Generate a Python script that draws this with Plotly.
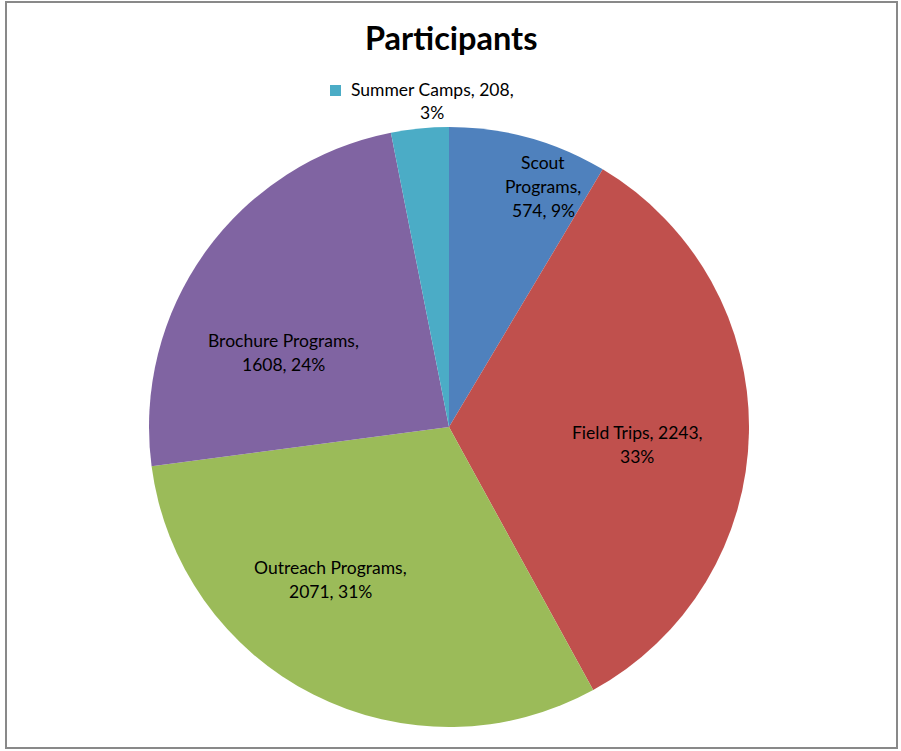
import plotly.graph_objects as go

categories = ["Scout Programs", "Field Trips", "Outreach Programs", "Brochure Programs", "Summer Camps"]
values = [574, 2243, 2071, 1608, 208]
colors = ["#4F81BD", "#C0504D", "#9BBB59", "#8064A2", "#4BACC6"]

W, H = 901, 751
total = sum(values)
pcts = [round(v / total * 100) for v in values]

# label line layouts (pixel centres) for each slice
label_lines = {
    "Scout Programs": (["Scout", "Programs,", "{v}, {p}%"], 543, 163),
    "Field Trips": (["{n}, {v},", "{p}%"], 637, 432),
    "Outreach Programs": (["{n},", "{v}, {p}%"], 330, 567),
    "Brochure Programs": (["{n},", "{v}, {p}%"], 283, 341),
    "Summer Camps": (["{n}, {v},", "{p}%"], 432, 89),
}
LINE_H = 24
FONT = "Lato, Carlito, 'Open Sans', sans-serif"

cx, cy, r = 449, 427, 300

fig = go.Figure(go.Pie(
    labels=categories,
    values=values,
    sort=False,
    direction="clockwise",
    rotation=0,
    marker=dict(colors=colors, line=dict(width=0)),
    textinfo="none",
    hoverinfo="label+value+percent",
    showlegend=False,
    domain=dict(x=[(cx - r) / W, (cx + r) / W], y=[1 - (cy + r) / H, 1 - (cy - r) / H]),
))

annotations = []
for n, v, p in zip(categories, values, pcts):
    lines, x0, y0 = label_lines[n]
    for i, ln in enumerate(lines):
        annotations.append(dict(
            text=ln.format(n=n, v=v, p=p),
            x=x0 / W, y=1 - (y0 + i * LINE_H) / H,
            xref="paper", yref="paper", showarrow=False,
            xanchor="center", yanchor="middle",
            font=dict(family=FONT, size=17.5, color="#000000"),
        ))

annotations.append(dict(
    text="<b>Participants</b>", x=451 / W, y=1 - 38 / H, xref="paper", yref="paper",
    showarrow=False, xanchor="center", yanchor="middle",
    font=dict(family=FONT, size=32.5, color="#000000"),
))

shapes = [
    dict(type="rect", xref="paper", yref="paper", x0=6 / W, x1=897 / W, y0=1 - 748 / H, y1=1 - 2 / H,
         line=dict(color="#898989", width=2), fillcolor="rgba(0,0,0,0)"),
    dict(type="rect", xref="paper", yref="paper", x0=330 / W, x1=341 / W, y0=1 - 96 / H, y1=1 - 85 / H,
         line=dict(width=0), fillcolor=colors[4]),
]

fig.update_layout(
    width=W, height=H,
    margin=dict(l=0, r=0, t=0, b=0),
    paper_bgcolor="white",
    plot_bgcolor="white",
    annotations=annotations,
    shapes=shapes,
)

fig.write_html(
    "out.html",
    config={"displayModeBar": False},
    post_script="document.body.style.margin='0';document.body.style.overflow='hidden';",
)
